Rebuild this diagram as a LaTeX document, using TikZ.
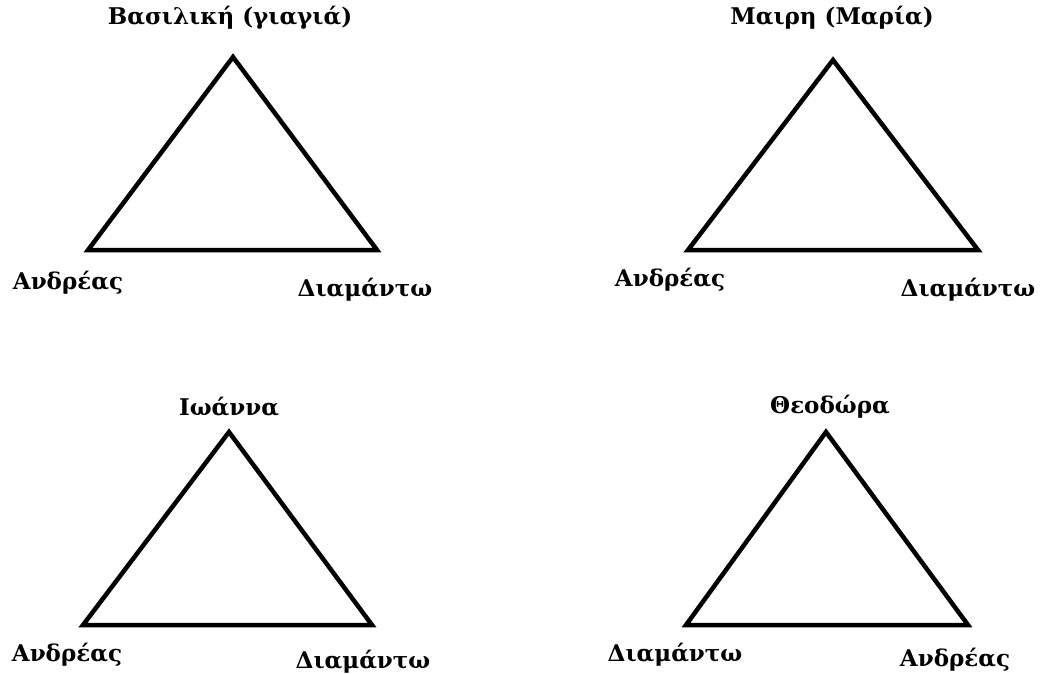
\documentclass[tikz,border=0pt]{standalone}
\usepackage{fontspec}
\setmainfont{DejaVu Serif}
\tikzset{
  tri/.style={line width=4.5pt, line join=miter},
  lab/.style={font=\bfseries\fontsize{23}{26}\selectfont, inner sep=0pt},
}
\begin{document}
\begin{tikzpicture}[x=1pt,y=-1pt]
\useasboundingbox (0,0) rectangle (1040,673);
% triangle 1
\coordinate (a1) at (233,57); \coordinate (b1) at (88,250); \coordinate (c1) at (377,250);
\draw[tri] (a1) -- (b1) -- (c1) -- cycle;
\node[lab] (t1) at (230,18) {Βασιλική (γιαγιά)};
\node[lab] (l1) at (68,283) {Ανδρέας};
\node[lab] (r1) at (365,290) {Διαμάντω};
% triangle 2
\coordinate (a2) at (833,60); \coordinate (b2) at (688,250); \coordinate (c2) at (978,250);
\draw[tri] (a2) -- (b2) -- (c2) -- cycle;
\node[lab] (t2) at (832,18) {Μαιρη (Μαρία)};
\node[lab] (l2) at (670,280) {Ανδρέας};
\node[lab] (r2) at (968,290) {Διαμάντω};
% triangle 3
\coordinate (a3) at (229,432); \coordinate (b3) at (83,625); \coordinate (c3) at (372,625);
\draw[tri] (a3) -- (b3) -- (c3) -- cycle;
\node[lab] (t3) at (229,407) {Ιωάννα};
\node[lab] (l3) at (67,655) {Ανδρέας};
\node[lab] (r3) at (363,662) {Διαμάντω};
% triangle 4
\coordinate (a4) at (826,432); \coordinate (b4) at (686,625); \coordinate (c4) at (968,625);
\draw[tri] (a4) -- (b4) -- (c4) -- cycle;
\node[lab] (t4) at (830,407) {Θεοδώρα};
\node[lab] (l4) at (675,655) {Διαμάντω};
\node[lab] (r4) at (955,660) {Ανδρέας};
\end{tikzpicture}
\end{document}
